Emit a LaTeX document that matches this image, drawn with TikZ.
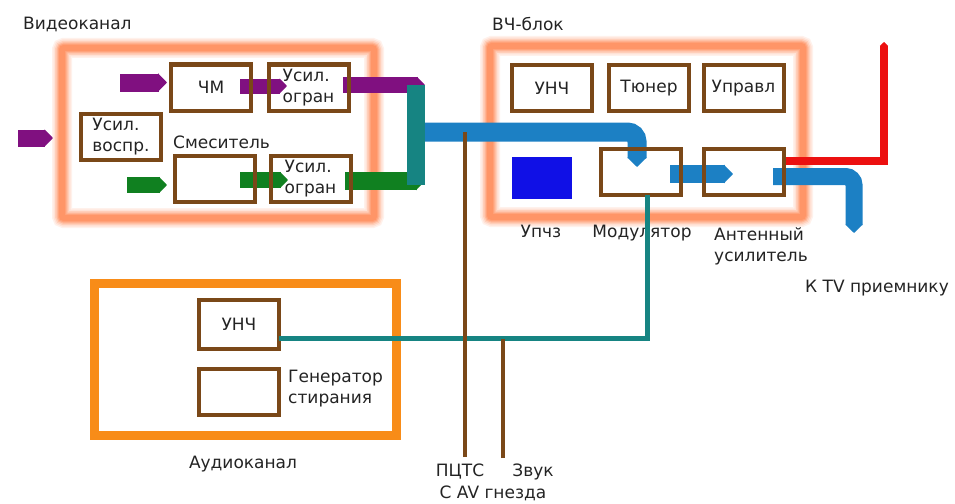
\documentclass[tikz,border=0pt]{standalone}
\usepackage{fontspec}
\setmainfont{DejaVu Sans}
\usepackage{tikz}
\usetikzlibrary{arrows.meta,positioning,backgrounds}
\definecolor{boxbrown}{RGB}{122,72,24}
\definecolor{vidpurple}{RGB}{128,16,128}
\definecolor{vidgreen}{RGB}{16,128,32}
\definecolor{busteal}{RGB}{22,132,130}
\definecolor{rfblue}{RGB}{28,128,196}
\definecolor{antred}{RGB}{236,16,16}
\definecolor{upblue}{RGB}{16,16,230}
\definecolor{glowc}{RGB}{255,140,90}
\definecolor{audorange}{RGB}{248,140,24}
\definecolor{txtgray}{RGB}{35,35,35}

\begin{document}
\begin{tikzpicture}[
    x=1pt, y=-1pt,
    every node/.style={font=\fontsize{17}{21}\selectfont, text=txtgray},
    blk/.style={rectangle, draw=boxbrown, line width=4pt, minimum width=80pt,
                minimum height=46pt, inner sep=0pt, outer sep=0pt},
    lbl/.style={inner sep=0pt},
    glowframe/.style={rectangle, draw=glowc!92, line width=6pt, inner sep=0pt, outer sep=0pt,
                      rounded corners=2pt,
                      preaction={draw=glowc!12, line width=20pt},
                      preaction={draw=glowc!25, line width=17pt},
                      preaction={draw=glowc!42, line width=14pt},
                      preaction={draw=glowc!62, line width=11pt},
                      preaction={draw=glowc!80, line width=8.5pt}},
    audframe/.style={rectangle, draw=audorange, line width=9pt, inner sep=0pt, outer sep=0pt},
    fat/.style={line width=#1, -{Triangle[length=0pt 0.5, width=0pt 1]}},
    bus/.style={line width=18pt},
    wire/.style={line width=5pt}
]
\useasboundingbox (0,0) rectangle (955,503);

% blocks
\node[blk] (chm) at (211,87.5) {ЧМ};
\node[blk, align=left] (ampT) at (308.5,87.5) {Усил.\\огран};
\node[blk, align=left] (play) at (121,137) {Усил.\\воспр.};
\node[blk] (mixer) at (215,179) {};
\node[blk, align=left] (ampB) at (310.5,178.5) {Усил.\\огран};
\node[blk] (unch) at (552,88) {УНЧ};
\node[blk] (tuner) at (649,88) {Тюнер};
\node[blk] (ctrl) at (743.5,88) {Управл};
\node[fill=upblue, minimum width=60pt, minimum height=42pt, inner sep=0pt] (upchz) at (542,178) {};
\node[blk] (mod) at (641,171.5) {};
\node[blk] (ant) at (743.5,171.5) {};
\node[blk, minimum height=49pt] (aunch) at (239,324.5) {УНЧ};
\node[blk] (gen) at (239,391.5) {};

% labels
\node[lbl, anchor=base west] (vidL) at (23,30) {Видеоканал};
\node[lbl, anchor=base west] (mixL) at (173,148) {Смеситель};
\node[lbl, anchor=base west] (rfL) at (492,31) {ВЧ-блок};
\node[lbl, anchor=base] (upchzL) at (541,237) {Упчз};
\node[lbl, anchor=base] (modL) at (642,237) {Модулятор};
\node[lbl, align=left, anchor=west] (antL) at (714,246) {Антенный\\усилитель};
\node[lbl, anchor=base] (tvL) at (877,292) {К TV приемнику};
\node[lbl, align=left, anchor=west] (genL) at (288,389) {Генератор\\стирания};
\node[lbl, anchor=base] (audL) at (243,468) {Аудиоканал};
\node[lbl, anchor=base] (pctsL) at (460,476) {ПЦТС};
\node[lbl, anchor=base] (zvukL) at (533,476) {Звук};
\node[lbl, anchor=base] (avL) at (493,498) {С AV гнезда};

% frames
\begin{scope}[on background layer]
\node[glowframe, minimum width=312pt, minimum height=170pt] (video) at (218,133) {};
\node[glowframe, minimum width=313pt, minimum height=171pt] (rf) at (646.5,131.5) {};
\node[audframe, minimum width=302pt, minimum height=152pt] (audio) at (245,359) {};
\end{scope}

\coordinate (vinA) at (18,138);
\coordinate (vinB) at (53,138);
\coordinate (busT) at (416,85);
\coordinate (busM) at (416,132);
\coordinate (busB) at (416,185);
\coordinate (tvOut) at (854,233);
\coordinate (antTop) at (884,42);
\coordinate (audLine) at ([yshift=-14pt]aunch.east);
\coordinate (pctsEnd) at (465,457);
\coordinate (zvukEnd) at (503,458);

% signal paths
\begin{scope}[on background layer]
\draw[fat=17pt, vidpurple] (vinA) -- (vinB);
\draw[fat=18pt, vidpurple] ([xshift=-51pt,yshift=5pt]chm.west) -- ([xshift=-4pt,yshift=5pt]chm.west);
\draw[fat=15pt, vidpurple] ([xshift=-11pt,yshift=1.5pt]chm.east) -- ([xshift=18.5pt,yshift=1.5pt]ampT.west);
\draw[fat=16pt, vidpurple] ([xshift=-5.5pt,yshift=2.5pt]ampT.east) -- ([xshift=9pt]busT);
\draw[fat=16pt, vidgreen] ([xshift=-48pt,yshift=-6pt]mixer.west) -- ([xshift=-8pt,yshift=-6pt]mixer.west);
\draw[fat=16pt, vidgreen] ([xshift=-15pt,yshift=-1pt]mixer.east) -- ([xshift=17.5pt,yshift=-1.5pt]ampB.west);
\draw[fat=18pt, vidgreen] ([xshift=-5.5pt,yshift=-2.5pt]ampB.east) -- ([xshift=9pt,yshift=4pt]busB);
\draw[bus, busteal] (busT) -- (busB);
\draw[fat=19pt, rfblue, rounded corners=9.5pt] ([xshift=9pt]busM) -| ([xshift=-4pt,yshift=-18.5pt]mod.north);
\draw[fat=18pt, rfblue] ([xshift=-11pt,yshift=-2.5pt]mod.east) -- ([xshift=29.5pt,yshift=-2.5pt]ant.west);
\draw[fat=17pt, rfblue, rounded corners=8.5pt] ([xshift=-10.5pt,yshift=-5pt]ant.east) -| (tvOut);
\draw[fat=8pt, antred] ([xshift=-1.5pt,yshift=10.5pt]ant.east) -| (antTop);
\end{scope}

% thin wires
\draw[wire, busteal] (audLine) -| ([xshift=6.5pt]mod.south);
\draw[line width=4pt, boxbrown] (pctsEnd) -- (pctsEnd |- busM);
\draw[line width=4pt, boxbrown] (zvukEnd) -- (zvukEnd |- audLine);
\end{tikzpicture}
\end{document}
